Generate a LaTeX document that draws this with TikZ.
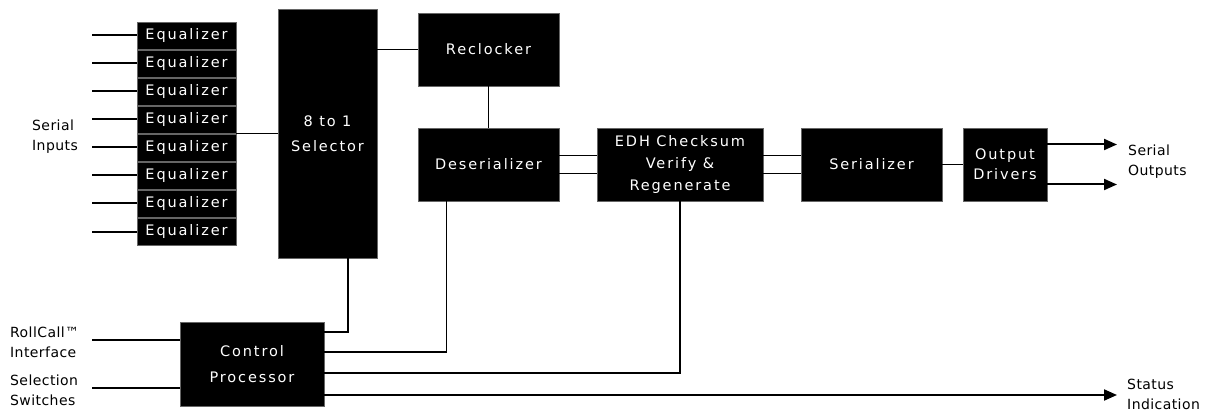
\documentclass[tikz,border=0pt]{standalone}
\usepackage{fontspec}
\setmainfont{DejaVu Sans}
\newfontfamily\boxfont{DejaVu Sans}[LetterSpace=13]
\newfontfamily\lblfont{DejaVu Sans}[LetterSpace=3]
\usetikzlibrary{arrows.meta,calc}
\begin{document}
\begin{tikzpicture}[x=1pt,y=-1pt,
  blk/.style={fill=black,draw=black!60,line width=0.6pt,text=white,align=center,inner sep=0pt,font=\boxfont\fontsize{14.5}{21}\selectfont},
  eqbox/.style={blk,minimum width=99pt,minimum height=27pt},
  thinln/.style={line width=1.2pt},
  thickln/.style={line width=2pt},
  arr/.style={thickln,-{Triangle[length=13pt,width=11pt]}},
  lbl/.style={align=left,anchor=west,inner sep=0pt,font=\lblfont\fontsize{14}{20}\selectfont}]
\useasboundingbox (0,0) rectangle (1207,414);
% equalizers and inputs
\foreach \i in {1,...,8}{
  \node[eqbox] (eq\i) at (186.5,{35.5+28*(\i-1)}) {Equalizer};
  \coordinate (in\i) at (92,{35.5+28*(\i-1)});
  \draw[thickln] (in\i) -- (eq\i.west);
}
\node[blk,minimum width=99pt,minimum height=249pt,font=\boxfont\fontsize{14.5}{25}\selectfont] (sel) at (327.5,133.5) {8 to 1\\Selector};
\node[blk,minimum width=141pt,minimum height=73pt] (rec) at (488.5,49.5) {Reclocker};
\node[blk,minimum width=141pt,minimum height=73pt] (des) at (488.5,164.5) {Deserializer};
\node[blk,minimum width=166pt,minimum height=73pt,font=\boxfont\fontsize{14.5}{22}\selectfont] (edh) at (680,164.5) {EDH Checksum\\Verify \&\\Regenerate};
\node[blk,minimum width=84pt,minimum height=73pt,font=\boxfont\fontsize{14.5}{20}\selectfont] (out) at (1005,164.5) {Output\\Drivers};
\node[blk,minimum width=141pt,minimum height=73pt] (ser) at (871.5,164.5) {Serializer};
\node[blk,minimum width=144pt,minimum height=84pt,font=\boxfont\fontsize{14.5}{26}\selectfont] (ctl) at (252,364) {Control\\Processor};
% signal path
\coordinate (j) at ($(eq4.south east)!0.5!(eq5.north east)$);
\draw[thinln] (j) -- (j -| sel.west);
\draw[thinln] (rec.west -| sel.east) -- (rec.west);
\draw[thinln] (rec.south) -- (des.north);
\draw[thinln] ([yshift=9pt]des.east) -- ([yshift=9pt]des.east -| edh.west);
\draw[thinln] ([yshift=-9pt]des.east) -- ([yshift=-9pt]des.east -| edh.west);
\draw[thinln] ([yshift=9pt]edh.east) -- ([yshift=9pt]edh.east -| ser.west);
\draw[thinln] ([yshift=-9pt]edh.east) -- ([yshift=-9pt]edh.east -| ser.west);
\draw[thinln] (ser.east) -- (out.west);
\coordinate (o1) at (1117,144.5);
\coordinate (o2) at (1117,184.5);
\draw[arr] (o1 -| out.east) -- (o1);
\draw[arr] (o2 -| out.east) -- (o2);
% control
\draw[thinln] ([yshift=32pt]ctl.east) -| ([xshift=20.5pt]sel.south);
\draw[thinln] ([yshift=12pt]ctl.east) -| ([xshift=-42pt]des.south);
\draw[thinln] ([yshift=-9pt]ctl.east) -| (edh.south);
\coordinate (st) at (1117,395);
\draw[arr] (st -| ctl.east) -- (st);
\coordinate (rc) at (92,340);
\coordinate (ss) at (92,388);
\draw[thickln] (rc) -- (rc -| ctl.west);
\draw[thickln] (ss) -- (ss -| ctl.west);
% labels
\node[lbl] (lsi) at (32,137) {Serial\\Inputs};
\node[lbl] (lrc) at (10,342) {RollCall™\\Interface};
\node[lbl] (lss) at (10,390) {Selection\\Switches};
\node[lbl] (lso) at (1128,162) {Serial\\Outputs};
\node[lbl] (lst) at (1127,394) {Status\\Indication};
\end{tikzpicture}
\end{document}
